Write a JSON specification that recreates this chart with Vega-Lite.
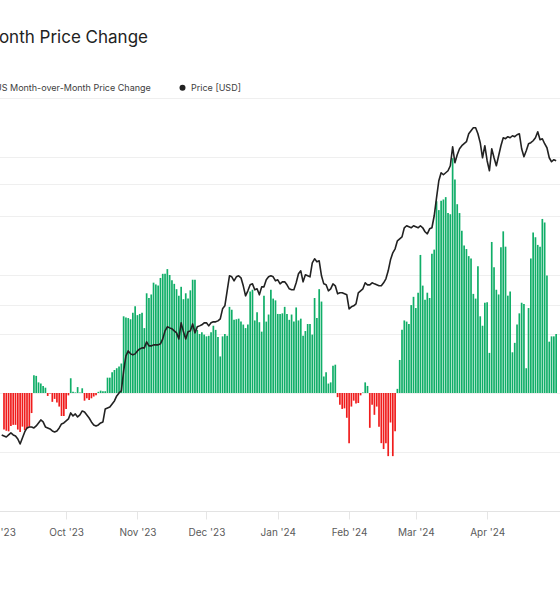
{
  "$schema": "https://vega.github.io/schema/vega-lite/v6.json",
  "autosize": {"type": "none"},
  "width": 584,
  "height": 413,
  "padding": {"left": -24, "right": 0, "top": 98, "bottom": 89},
  "background": "white",
  "title": {
    "text": "Bitcoin: US Month-over-Month Price Change",
    "anchor": "start",
    "align": "right",
    "dx": 172,
    "frame": "group",
    "orient": "top",
    "offset": 23,
    "baseline": "alphabetic",
    "font": "Inter",
    "fontSize": 17,
    "fontWeight": 400,
    "color": "#222222"
  },
  "data": {"values": [
    {"date":"2023-09-03","change":null,"price":25820},
    {"date":"2023-09-04","change":-6.2,"price":25730},
    {"date":"2023-09-05","change":-6.4,"price":25640},
    {"date":"2023-09-06","change":-6.5,"price":25820},
    {"date":"2023-09-07","change":-5.6,"price":25990},
    {"date":"2023-09-08","change":-5.4,"price":25820},
    {"date":"2023-09-09","change":-5.4,"price":25730},
    {"date":"2023-09-10","change":-6.2,"price":25470},
    {"date":"2023-09-11","change":-6.6,"price":25050},
    {"date":"2023-09-12","change":-5.7,"price":25560},
    {"date":"2023-09-13","change":-6.3,"price":26080},
    {"date":"2023-09-14","change":-6.0,"price":26430},
    {"date":"2023-09-15","change":-5.7,"price":26520},
    {"date":"2023-09-16","change":-3.4,"price":26520},
    {"date":"2023-09-17","change":3.0,"price":26430},
    {"date":"2023-09-18","change":2.9,"price":26610},
    {"date":"2023-09-19","change":1.8,"price":26880},
    {"date":"2023-09-20","change":1.6,"price":27150},
    {"date":"2023-09-21","change":1.2,"price":26970},
    {"date":"2023-09-22","change":0.9,"price":26520},
    {"date":"2023-09-23","change":-0.5,"price":26430},
    {"date":"2023-09-24","change":-0.1,"price":26340},
    {"date":"2023-09-25","change":-1.5,"price":26170},
    {"date":"2023-09-26","change":-1.0,"price":26080},
    {"date":"2023-09-27","change":-1.6,"price":26170},
    {"date":"2023-09-28","change":-2.3,"price":26430},
    {"date":"2023-09-29","change":-3.9,"price":26790},
    {"date":"2023-09-30","change":-3.9,"price":26880},
    {"date":"2023-10-01","change":-2.7,"price":27060},
    {"date":"2023-10-02","change":-0.4,"price":27240},
    {"date":"2023-10-03","change":2.5,"price":27800},
    {"date":"2023-10-04","change":0.2,"price":27520},
    {"date":"2023-10-05","change":0.1,"price":27700},
    {"date":"2023-10-06","change":1.0,"price":27430},
    {"date":"2023-10-07","change":0.1,"price":27610},
    {"date":"2023-10-08","change":0.8,"price":27980},
    {"date":"2023-10-09","change":-1.3,"price":27890},
    {"date":"2023-10-10","change":-0.9,"price":27610},
    {"date":"2023-10-11","change":-1.2,"price":27330},
    {"date":"2023-10-12","change":-0.9,"price":26970},
    {"date":"2023-10-13","change":-0.6,"price":26700},
    {"date":"2023-10-14","change":-0.4,"price":26610},
    {"date":"2023-10-15","change":0.2,"price":26700},
    {"date":"2023-10-16","change":0.4,"price":26880},
    {"date":"2023-10-17","change":0.3,"price":26970},
    {"date":"2023-10-18","change":0.3,"price":28170},
    {"date":"2023-10-19","change":2.6,"price":28270},
    {"date":"2023-10-20","change":2.6,"price":28360},
    {"date":"2023-10-21","change":3.5,"price":28650},
    {"date":"2023-10-22","change":3.9,"price":28940},
    {"date":"2023-10-23","change":4.2,"price":29430},
    {"date":"2023-10-24","change":4.5,"price":29730},
    {"date":"2023-10-25","change":5.0,"price":29930},
    {"date":"2023-10-26","change":13.0,"price":32010},
    {"date":"2023-10-27","change":12.8,"price":33660},
    {"date":"2023-10-28","change":12.7,"price":34230},
    {"date":"2023-10-29","change":12.5,"price":33890},
    {"date":"2023-10-30","change":13.6,"price":33780},
    {"date":"2023-10-31","change":14.7,"price":33890},
    {"date":"2023-11-01","change":13.2,"price":34230},
    {"date":"2023-11-02","change":13.4,"price":34460},
    {"date":"2023-11-03","change":13.6,"price":34580},
    {"date":"2023-11-04","change":11.0,"price":34580},
    {"date":"2023-11-05","change":16.9,"price":35280},
    {"date":"2023-11-06","change":16.1,"price":34810},
    {"date":"2023-11-07","change":16.7,"price":34810},
    {"date":"2023-11-08","change":18.7,"price":34930},
    {"date":"2023-11-09","change":18.4,"price":34930},
    {"date":"2023-11-10","change":18.2,"price":34930},
    {"date":"2023-11-11","change":19.5,"price":35050},
    {"date":"2023-11-12","change":20.2,"price":35640},
    {"date":"2023-11-13","change":20.2,"price":36610},
    {"date":"2023-11-14","change":21.0,"price":37110},
    {"date":"2023-11-15","change":20.0,"price":36980},
    {"date":"2023-11-16","change":19.1,"price":36860},
    {"date":"2023-11-17","change":18.5,"price":36610},
    {"date":"2023-11-18","change":17.6,"price":36370},
    {"date":"2023-11-19","change":16.5,"price":35640},
    {"date":"2023-11-20","change":18.0,"price":37610},
    {"date":"2023-11-21","change":15.9,"price":36490},
    {"date":"2023-11-22","change":16.9,"price":35640},
    {"date":"2023-11-23","change":16.0,"price":36490},
    {"date":"2023-11-24","change":17.4,"price":36610},
    {"date":"2023-11-25","change":19.2,"price":37480},
    {"date":"2023-11-26","change":19.2,"price":36370},
    {"date":"2023-11-27","change":10.7,"price":37110},
    {"date":"2023-11-28","change":10.0,"price":37230},
    {"date":"2023-11-29","change":10.3,"price":37360},
    {"date":"2023-11-30","change":9.9,"price":37610},
    {"date":"2023-12-01","change":9.6,"price":37610},
    {"date":"2023-12-02","change":9.7,"price":37230},
    {"date":"2023-12-03","change":10.3,"price":37610},
    {"date":"2023-12-04","change":11.4,"price":37740},
    {"date":"2023-12-05","change":10.7,"price":37740},
    {"date":"2023-12-06","change":9.5,"price":37860},
    {"date":"2023-12-07","change":6.2,"price":38120},
    {"date":"2023-12-08","change":9.6,"price":39420},
    {"date":"2023-12-09","change":10.0,"price":39820},
    {"date":"2023-12-10","change":9.7,"price":41880},
    {"date":"2023-12-11","change":14.6,"price":44040},
    {"date":"2023-12-12","change":14.1,"price":43890},
    {"date":"2023-12-13","change":12.4,"price":43310},
    {"date":"2023-12-14","change":12.5,"price":43890},
    {"date":"2023-12-15","change":12.6,"price":44040},
    {"date":"2023-12-16","change":12.1,"price":43750},
    {"date":"2023-12-17","change":11.6,"price":42590},
    {"date":"2023-12-18","change":11.0,"price":41180},
    {"date":"2023-12-19","change":11.6,"price":41880},
    {"date":"2023-12-20","change":17.2,"price":42730},
    {"date":"2023-12-21","change":17.5,"price":42870},
    {"date":"2023-12-22","change":12.3,"price":42020},
    {"date":"2023-12-23","change":13.7,"price":42160},
    {"date":"2023-12-24","change":12.0,"price":41320},
    {"date":"2023-12-25","change":10.4,"price":42440},
    {"date":"2023-12-26","change":16.5,"price":42440},
    {"date":"2023-12-27","change":12.1,"price":43450},
    {"date":"2023-12-28","change":13.3,"price":43890},
    {"date":"2023-12-29","change":17.5,"price":44040},
    {"date":"2023-12-30","change":16.0,"price":43890},
    {"date":"2023-12-31","change":15.7,"price":43310},
    {"date":"2024-01-01","change":13.4,"price":43450},
    {"date":"2024-01-02","change":13.4,"price":42870},
    {"date":"2024-01-03","change":13.5,"price":43160},
    {"date":"2024-01-04","change":14.6,"price":43160},
    {"date":"2024-01-05","change":13.4,"price":42730},
    {"date":"2024-01-06","change":12.4,"price":42160},
    {"date":"2024-01-07","change":13.3,"price":42020},
    {"date":"2024-01-08","change":12.1,"price":42020},
    {"date":"2024-01-09","change":14.5,"price":43020},
    {"date":"2024-01-10","change":12.3,"price":44340},
    {"date":"2024-01-11","change":12.6,"price":44790},
    {"date":"2024-01-12","change":9.7,"price":43160},
    {"date":"2024-01-13","change":10.5,"price":44190},
    {"date":"2024-01-14","change":11.7,"price":44040},
    {"date":"2024-01-15","change":11.7,"price":43890},
    {"date":"2024-01-16","change":9.9,"price":46010},
    {"date":"2024-01-17","change":16.1,"price":46630},
    {"date":"2024-01-18","change":12.7,"price":46160},
    {"date":"2024-01-19","change":17.6,"price":46320},
    {"date":"2024-01-20","change":15.5,"price":44040},
    {"date":"2024-01-21","change":2.8,"price":42870},
    {"date":"2024-01-22","change":3.5,"price":42730},
    {"date":"2024-01-23","change":1.6,"price":41880},
    {"date":"2024-01-24","change":1.8,"price":42160},
    {"date":"2024-01-25","change":4.6,"price":42870},
    {"date":"2024-01-26","change":4.8,"price":42590},
    {"date":"2024-01-27","change":-0.7,"price":41460},
    {"date":"2024-01-28","change":-2.0,"price":41600},
    {"date":"2024-01-29","change":-2.7,"price":41600},
    {"date":"2024-01-30","change":-2.6,"price":41460},
    {"date":"2024-01-31","change":-4.2,"price":41320},
    {"date":"2024-02-01","change":-8.5,"price":39420},
    {"date":"2024-02-02","change":-2.3,"price":39690},
    {"date":"2024-02-03","change":-1.3,"price":39820},
    {"date":"2024-02-04","change":-1.8,"price":40090},
    {"date":"2024-02-05","change":-1.7,"price":41600},
    {"date":"2024-02-06","change":-0.4,"price":41880},
    {"date":"2024-02-07","change":0.1,"price":42160},
    {"date":"2024-02-08","change":1.8,"price":43020},
    {"date":"2024-02-09","change":1.2,"price":42730},
    {"date":"2024-02-10","change":-5.9,"price":42730},
    {"date":"2024-02-11","change":-2.0,"price":43020},
    {"date":"2024-02-12","change":-3.7,"price":42870},
    {"date":"2024-02-13","change":-2.3,"price":42730},
    {"date":"2024-02-14","change":-5.7,"price":42590},
    {"date":"2024-02-15","change":-8.5,"price":42590},
    {"date":"2024-02-16","change":-9.5,"price":43020},
    {"date":"2024-02-17","change":-8.5,"price":43600},
    {"date":"2024-02-18","change":-10.7,"price":44790},
    {"date":"2024-02-19","change":-5.0,"price":46470},
    {"date":"2024-02-20","change":-10.7,"price":47580},
    {"date":"2024-02-21","change":-6.5,"price":48220},
    {"date":"2024-02-22","change":0.7,"price":49540},
    {"date":"2024-02-23","change":5.6,"price":49870},
    {"date":"2024-02-24","change":10.7,"price":50200},
    {"date":"2024-02-25","change":12.3,"price":51750},
    {"date":"2024-02-26","change":12.1,"price":52100},
    {"date":"2024-02-27","change":11.7,"price":51920},
    {"date":"2024-02-28","change":14.9,"price":51750},
    {"date":"2024-02-29","change":16.3,"price":52100},
    {"date":"2024-03-01","change":14.4,"price":51920},
    {"date":"2024-03-02","change":17.0,"price":51750},
    {"date":"2024-03-03","change":23.4,"price":52100},
    {"date":"2024-03-04","change":18.2,"price":51750},
    {"date":"2024-03-05","change":15.8,"price":51060},
    {"date":"2024-03-06","change":17.0,"price":50710},
    {"date":"2024-03-07","change":16.1,"price":51570},
    {"date":"2024-03-08","change":23.6,"price":51750},
    {"date":"2024-03-09","change":24.3,"price":53880},
    {"date":"2024-03-10","change":32.5,"price":57230},
    {"date":"2024-03-11","change":31.0,"price":60600},
    {"date":"2024-03-12","change":32.6,"price":62250},
    {"date":"2024-03-13","change":32.8,"price":61830},
    {"date":"2024-03-14","change":33.2,"price":62250},
    {"date":"2024-03-15","change":30.5,"price":62670},
    {"date":"2024-03-16","change":30.3,"price":63730},
    {"date":"2024-03-17","change":39.8,"price":67930},
    {"date":"2024-03-18","change":36.2,"price":64370},
    {"date":"2024-03-19","change":32.0,"price":66130},
    {"date":"2024-03-20","change":30.5,"price":67470},
    {"date":"2024-03-21","change":27.5,"price":68160},
    {"date":"2024-03-22","change":25.0,"price":68620},
    {"date":"2024-03-23","change":24.4,"price":69080},
    {"date":"2024-03-24","change":23.2,"price":70960},
    {"date":"2024-03-25","change":22.8,"price":71680},
    {"date":"2024-03-26","change":16.8,"price":72400},
    {"date":"2024-03-27","change":16.0,"price":72400},
    {"date":"2024-03-28","change":21.5,"price":70960},
    {"date":"2024-03-29","change":13.0,"price":68850},
    {"date":"2024-03-30","change":11.4,"price":65460},
    {"date":"2024-03-31","change":15.3,"price":68160},
    {"date":"2024-04-01","change":15.4,"price":64810},
    {"date":"2024-04-02","change":6.8,"price":62670},
    {"date":"2024-04-03","change":25.6,"price":67470},
    {"date":"2024-04-04","change":21.3,"price":65460},
    {"date":"2024-04-05","change":17.5,"price":63730},
    {"date":"2024-04-06","change":16.7,"price":65900},
    {"date":"2024-04-07","change":24.7,"price":68160},
    {"date":"2024-04-08","change":27.4,"price":70010},
    {"date":"2024-04-09","change":24.8,"price":69780},
    {"date":"2024-04-10","change":16.5,"price":70250},
    {"date":"2024-04-11","change":17.2,"price":70010},
    {"date":"2024-04-12","change":6.9,"price":70480},
    {"date":"2024-04-13","change":8.5,"price":70250},
    {"date":"2024-04-14","change":11.6,"price":70720},
    {"date":"2024-04-15","change":13.5,"price":70960},
    {"date":"2024-04-16","change":15.3,"price":67470},
    {"date":"2024-04-17","change":15.1,"price":65680},
    {"date":"2024-04-18","change":4.2,"price":67020},
    {"date":"2024-04-19","change":14.4,"price":68620},
    {"date":"2024-04-20","change":22.8,"price":68850},
    {"date":"2024-04-21","change":27.2,"price":69310},
    {"date":"2024-04-22","change":26.4,"price":70010},
    {"date":"2024-04-23","change":25.1,"price":71440},
    {"date":"2024-04-24","change":24.8,"price":69540},
    {"date":"2024-04-25","change":29.5,"price":69780},
    {"date":"2024-04-26","change":28.9,"price":68620},
    {"date":"2024-04-27","change":19.9,"price":67700},
    {"date":"2024-04-28","change":8.7,"price":65460},
    {"date":"2024-04-29","change":9.6,"price":64590},
    {"date":"2024-04-30","change":9.6,"price":65030},
    {"date":"2024-05-01","change":10.0,"price":64810}
  ]},
  "encoding": {
    "x": {
      "field": "date",
      "type": "temporal",
      "scale": {
        "type": "utc",
        "nice": false,
        "domain": [
          {"year": 2023, "month": 8, "date": 25, "utc": true},
          {"year": 2024, "month": 4, "date": 30, "hours": 12, "utc": true}
        ]
      },
      "axis": {
        "orient": "bottom",
        "format": "%b '%y",
        "values": [
          {"year": 2023, "month": 9, "date": 1, "utc": true},
          {"year": 2023, "month": 10, "date": 1, "utc": true},
          {"year": 2023, "month": 11, "date": 1, "utc": true},
          {"year": 2023, "month": 12, "date": 1, "utc": true},
          {"year": 2024, "month": 1, "date": 1, "utc": true},
          {"year": 2024, "month": 2, "date": 1, "utc": true},
          {"year": 2024, "month": 3, "date": 1, "utc": true},
          {"year": 2024, "month": 4, "date": 1, "utc": true}
        ],
        "grid": false,
        "domain": true,
        "domainColor": "#e3e3e3",
        "ticks": true,
        "tickColor": "#e6e6e6",
        "tickSize": 8,
        "labelFont": "Inter",
        "labelFontSize": 10,
        "labelColor": "#5a5a5a",
        "labelPadding": 8,
        "labelOverlap": false,
        "labelFlush": false,
        "title": null
      }
    }
  },
  "layer": [
    {
      "layer": [
        {
          "mark": {"type": "bar", "width": 1.7, "clip": true},
          "encoding": {
            "y": {
              "field": "change",
              "type": "quantitative",
              "scale": {"domain": [-20, 50]},
              "axis": {
                "orient": "left",
                "values": [-20, -10, 0, 10, 20, 30, 40, 50],
                "grid": true,
                "gridColor": "#efefef",
                "domain": false,
                "ticks": false,
                "labelFont": "Inter",
                "labelFontSize": 10,
                "labelColor": "#5a5a5a",
                "title": null
              }
            },
            "color": {
              "condition": {"test": "datum.change < 0", "value": "#f01c1c"},
              "datum": "US Month-over-Month Price Change",
              "scale": {
                "domain": ["US Month-over-Month Price Change", "Price [USD]"],
                "range": ["#10ae68", "#222222"]
              },
              "legend": {
                "orient": "none",
                "legendX": 6,
                "legendY": -15,
                "direction": "horizontal",
                "title": null,
                "symbolType": "circle",
                "symbolSize": 36,
                "symbolStrokeWidth": 0,
                "labelFont": "Inter",
                "labelFontSize": 9,
                "labelColor": "#404040",
                "labelOffset": 4,
                "columnPadding": 27
              }
            }
          }
        },
        {
          "data": {"values": [{}]},
          "mark": {"type": "rule", "color": "#8f8f8f", "strokeWidth": 1.5},
          "encoding": {"y": {"datum": 0, "type": "quantitative"}}
        }
      ]
    },
    {
      "mark": {"type": "line", "strokeWidth": 1.6, "strokeJoin": "round", "clip": true},
      "encoding": {
        "y": {
          "field": "price",
          "type": "quantitative",
          "scale": {"type": "log", "domain": [20000, 80000]},
          "axis": {
            "orient": "right",
            "values": [20000, 40000, 60000, 80000],
            "grid": true,
            "gridColor": "#efefef",
            "domain": false,
            "ticks": false,
            "labelFont": "Inter",
            "labelFontSize": 10,
            "labelColor": "#5a5a5a",
            "title": null
          }
        },
        "color": {"datum": "Price [USD]"}
      }
    }
  ],
  "resolve": {"scale": {"y": "independent"}},
  "config": {"view": {"stroke": null}, "font": "Inter"}
}
